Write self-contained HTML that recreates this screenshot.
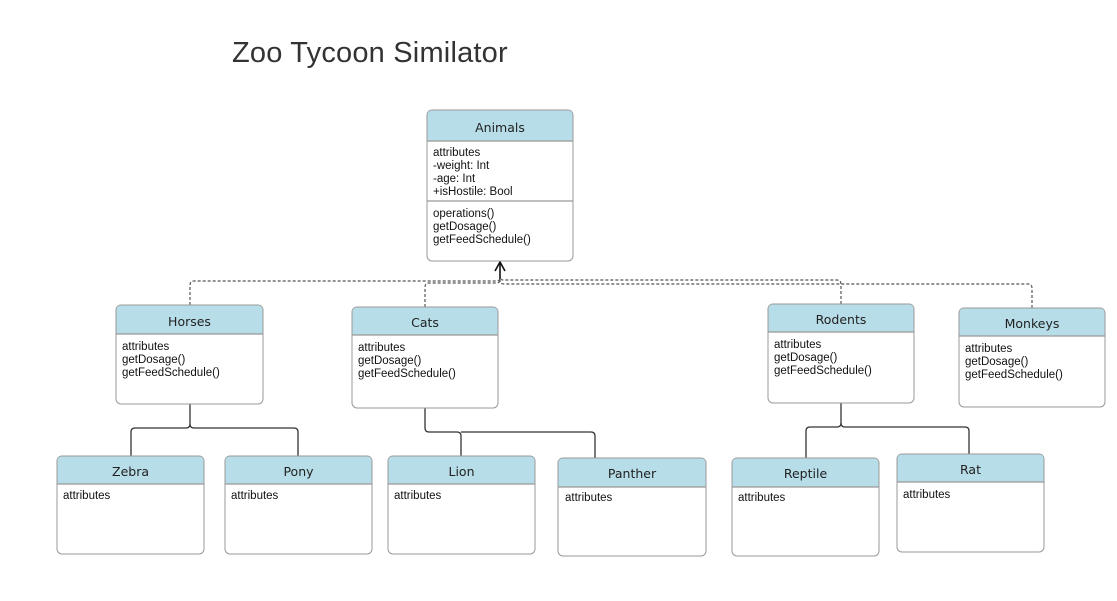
<!DOCTYPE html>
<html><head><meta charset="utf-8"><style>
html,body{margin:0;padding:0;background:#fff;}
svg{display:block;}
.h{font-family:"DejaVu Sans","Liberation Sans",sans-serif;font-size:12.5px;fill:#222;text-anchor:middle;}
.b{font-family:"Liberation Sans",sans-serif;font-size:11.5px;fill:#111;}
.box{fill:#fff;stroke:#999;stroke-width:1;}
.hd{fill:#b7dde8;}
.sep{stroke:#999;stroke-width:1.2;}
.sol{fill:none;stroke:#333;stroke-width:1.3;}
.dash{fill:none;stroke:#555;stroke-width:1.2;stroke-dasharray:3,2;}
</style></head><body>
<svg width="1117" height="601" viewBox="0 0 1117 601" xmlns="http://www.w3.org/2000/svg">
<text x="232" y="62" font-family="Liberation Sans, sans-serif" font-size="29" letter-spacing="0.2" fill="#333">Zoo Tycoon Similator</text>

<path class="dash" d="M190 305 V285 Q190 281 194 281 H497 Q500 281 500 277"/>
<path class="dash" d="M425 307 V287 Q425 283 429 283 H497 Q500 283 500 279"/>
<path class="dash" d="M841 304 V284 Q841 280 837 280 H503 Q500 280 500 277"/>
<path class="dash" d="M1032 308 V288 Q1032 284 1028 284 H504 Q500 284 500 280"/>
<path d="M500 279 V263" stroke="#111" stroke-width="1.6"/>
<path d="M495 271 L500 262 L505 271" fill="none" stroke="#111" stroke-width="1.6"/>

<path class="sol" d="M190 404 V424 Q190 428 186 428 H135 Q131 428 131 432 V456"/>
<path class="sol" d="M190 424 Q190 428 194 428 H294 Q298 428 298 432 V456"/>
<path class="sol" d="M425 408 V428 Q425 432 429 432 H457 Q461 432 461 436 V456"/>
<path class="sol" d="M461 432 H591 Q595 432 595 436 V458"/>
<path class="sol" d="M841 403 V423 Q841 427 837 427 H810 Q806 427 806 431 V458"/>
<path class="sol" d="M841 423 Q841 427 845 427 H965 Q969 427 969 431 V454"/>

<rect class="box" x="427" y="110" width="146" height="151" rx="5"/>
<path class="hd" d="M432 110.5 H568 Q572.5 110.5 572.5 115 V141 H427.5 V115 Q427.5 110.5 432 110.5Z"/>
<line class="sep" x1="427" y1="141" x2="573" y2="141"/>
<line class="sep" x1="427" y1="201" x2="573" y2="201"/>
<text class="h" x="500" y="132">Animals</text>
<text class="b" x="433" y="156">attributes</text>
<text class="b" x="433" y="169">-weight: Int</text>
<text class="b" x="433" y="182">-age: Int</text>
<text class="b" x="433" y="195">+isHostile: Bool</text>
<text class="b" x="433" y="217">operations()</text>
<text class="b" x="433" y="230">getDosage()</text>
<text class="b" x="433" y="243">getFeedSchedule()</text>

<g>
<rect class="box" x="116" y="305" width="147" height="99" rx="5"/>
<path class="hd" d="M121 305.5 H258 Q262.5 305.5 262.5 310 V334 H116.5 V310 Q116.5 305.5 121 305.5Z"/>
<line class="sep" x1="116" y1="334" x2="263" y2="334"/>
<text class="h" x="189.5" y="326">Horses</text>
<text class="b" x="122" y="350">attributes</text>
<text class="b" x="122" y="363">getDosage()</text>
<text class="b" x="122" y="376">getFeedSchedule()</text>
</g>
<g>
<rect class="box" x="352" y="307" width="146" height="101" rx="5"/>
<path class="hd" d="M357 307.5 H493 Q497.5 307.5 497.5 312 V335 H352.5 V312 Q352.5 307.5 357 307.5Z"/>
<line class="sep" x1="352" y1="335" x2="498" y2="335"/>
<text class="h" x="425" y="327">Cats</text>
<text class="b" x="358" y="351">attributes</text>
<text class="b" x="358" y="364">getDosage()</text>
<text class="b" x="358" y="377">getFeedSchedule()</text>
</g>
<g>
<rect class="box" x="768" y="304" width="146" height="99" rx="5"/>
<path class="hd" d="M773 304.5 H909 Q913.5 304.5 913.5 309 V332 H768.5 V309 Q768.5 304.5 773 304.5Z"/>
<line class="sep" x1="768" y1="332" x2="914" y2="332"/>
<text class="h" x="841" y="324">Rodents</text>
<text class="b" x="774" y="348">attributes</text>
<text class="b" x="774" y="361">getDosage()</text>
<text class="b" x="774" y="374">getFeedSchedule()</text>
</g>
<g>
<rect class="box" x="959" y="308" width="146" height="99" rx="5"/>
<path class="hd" d="M964 308.5 H1100 Q1104.5 308.5 1104.5 313 V336 H959.5 V313 Q959.5 308.5 964 308.5Z"/>
<line class="sep" x1="959" y1="336" x2="1105" y2="336"/>
<text class="h" x="1032" y="328">Monkeys</text>
<text class="b" x="965" y="352">attributes</text>
<text class="b" x="965" y="365">getDosage()</text>
<text class="b" x="965" y="378">getFeedSchedule()</text>
</g>

<g>
<rect class="box" x="57" y="456" width="147" height="98" rx="5"/>
<path class="hd" d="M62 456.5 H199 Q203.5 456.5 203.5 461 V484 H57.5 V461 Q57.5 456.5 62 456.5Z"/>
<line class="sep" x1="57" y1="484" x2="204" y2="484"/>
<text class="h" x="130.5" y="476">Zebra</text>
<text class="b" x="63" y="499">attributes</text>
</g>
<g>
<rect class="box" x="225" y="456" width="147" height="98" rx="5"/>
<path class="hd" d="M230 456.5 H367 Q371.5 456.5 371.5 461 V484 H225.5 V461 Q225.5 456.5 230 456.5Z"/>
<line class="sep" x1="225" y1="484" x2="372" y2="484"/>
<text class="h" x="298.5" y="476">Pony</text>
<text class="b" x="231" y="499">attributes</text>
</g>
<g>
<rect class="box" x="388" y="456" width="147" height="98" rx="5"/>
<path class="hd" d="M393 456.5 H530 Q534.5 456.5 534.5 461 V484 H388.5 V461 Q388.5 456.5 393 456.5Z"/>
<line class="sep" x1="388" y1="484" x2="535" y2="484"/>
<text class="h" x="461.5" y="476">Lion</text>
<text class="b" x="394" y="499">attributes</text>
</g>
<g>
<rect class="box" x="558" y="458" width="148" height="98" rx="5"/>
<path class="hd" d="M563 458.5 H701 Q705.5 458.5 705.5 463 V487 H558.5 V463 Q558.5 458.5 563 458.5Z"/>
<line class="sep" x1="558" y1="487" x2="706" y2="487"/>
<text class="h" x="632" y="478">Panther</text>
<text class="b" x="565" y="501">attributes</text>
</g>
<g>
<rect class="box" x="732" y="458" width="147" height="98" rx="5"/>
<path class="hd" d="M737 458.5 H874 Q878.5 458.5 878.5 463 V487 H732.5 V463 Q732.5 458.5 737 458.5Z"/>
<line class="sep" x1="732" y1="487" x2="879" y2="487"/>
<text class="h" x="805.5" y="478">Reptile</text>
<text class="b" x="738" y="501">attributes</text>
</g>
<g>
<rect class="box" x="897" y="454" width="147" height="98" rx="5"/>
<path class="hd" d="M902 454.5 H1039 Q1043.5 454.5 1043.5 459 V482 H897.5 V459 Q897.5 454.5 902 454.5Z"/>
<line class="sep" x1="897" y1="482" x2="1044" y2="482"/>
<text class="h" x="970.5" y="474">Rat</text>
<text class="b" x="903" y="498">attributes</text>
</g>
</svg>
</body></html>
